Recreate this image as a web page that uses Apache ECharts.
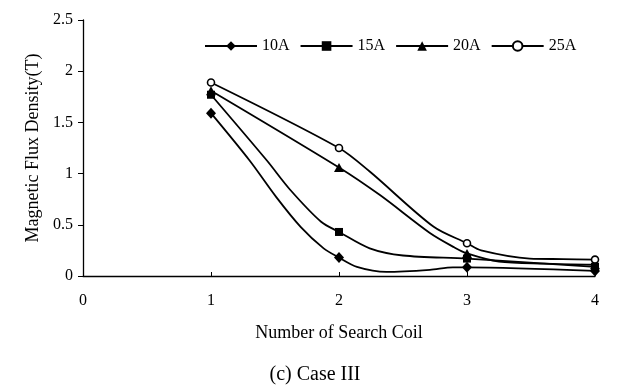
<!DOCTYPE html>
<html>
<head>
<meta charset="utf-8">
<script src="https://cdn.jsdelivr.net/npm/echarts@6/dist/echarts.min.js"></script>
<style>
  html, body { margin: 0; padding: 0; background: #fff; }
  #chart { width: 620px; height: 390px; }
</style>
</head>
<body>
<div id="chart"></div>
<script>
// Search coil positions and measured flux density (T) at each coil
var coils = [1, 2, 3, 4];
var flux10A = [1.59, 0.18, 0.085, 0.05];
var flux15A = [1.77, 0.43, 0.17, 0.09];
var flux20A = [1.81, 1.06, 0.22, 0.11];
var flux25A = [1.89, 1.25, 0.32, 0.16];

// Points along each plotted curve between the coils ([coil, T])
var curve10A = [[1.30, 1.13], [1.51, 0.77], [1.70, 0.48], [1.88, 0.27],
                [2.14, 0.09], [2.37, 0.04], [2.71, 0.06], [2.89, 0.085]];
var curve15A = [[1.435, 1.13], [1.62, 0.84], [1.86, 0.53],
                [2.24, 0.27], [2.5, 0.20]];
var curve20A = [[2.32, 0.79], [2.71, 0.42], [2.9, 0.28],
                [3.25, 0.14], [3.6, 0.12]];
var curve25A = [[2.24, 1.02], [2.74, 0.48],
                [3.11, 0.25], [3.49, 0.17], [3.75, 0.165]];

var seriesNames = ['10A', '15A', '20A', '25A'];

var FONT = '"Liberation Serif", "Times New Roman", serif';

function buildData(values, curve) {
  var pts = coils.map(function (c, i) { return { value: [c, values[i]] }; });
  curve.forEach(function (p) { pts.push({ value: p, symbol: 'none' }); });
  pts.sort(function (a, b) { return a.value[0] - b.value[0]; });
  return pts;
}

function lineSeries(name, values, curve, symbol, size, filled) {
  return {
    name: name,
    type: 'line',
    data: buildData(values, curve),
    smooth: 0.3,
    symbol: symbol,
    symbolSize: size,
    showAllSymbol: true,
    lineStyle: { color: '#000', width: 1.8 },
    itemStyle: filled
      ? { color: '#000', borderColor: '#000', borderWidth: 0 }
      : { color: '#fff', borderColor: '#000', borderWidth: 1.6 },
    emphasis: { disabled: true },
    z: 3
  };
}

var chart = echarts.init(document.getElementById('chart'), null, { renderer: 'canvas' });

chart.setOption({
  animation: false,
  backgroundColor: '#fff',
  textStyle: { fontFamily: FONT, color: '#000' },
  grid: { left: 83, right: 25, top: 20, bottom: 114, containLabel: false },
  legend: {
    data: seriesNames,
    left: 204,
    top: 38,
    padding: 0,
    itemWidth: 52,
    itemHeight: 12,
    itemGap: 10,
    textStyle: { fontFamily: FONT, fontSize: 16, color: '#000' }
  },
  xAxis: {
    type: 'value',
    min: 0,
    max: 4,
    interval: 1,
    name: 'Number of Search Coil',
    nameLocation: 'middle',
    nameGap: 48,
    nameTextStyle: { fontFamily: FONT, fontSize: 18, color: '#000' },
    axisLine: { lineStyle: { color: '#000', width: 1.3 } },
    axisTick: { inside: true, length: 4, lineStyle: { color: '#000', width: 1 } },
    axisLabel: { margin: 17, fontFamily: FONT, fontSize: 16, color: '#000' },
    splitLine: { show: false }
  },
  yAxis: {
    type: 'value',
    min: 0,
    max: 2.5,
    interval: 0.5,
    name: 'Magnetic Flux Density(T)',
    nameLocation: 'middle',
    nameRotate: 90,
    nameGap: 40,
    nameTextStyle: { fontFamily: FONT, fontSize: 18, color: '#000' },
    axisLine: { show: true, lineStyle: { color: '#000', width: 1.3 } },
    axisTick: { show: true, inside: false, length: 5, lineStyle: { color: '#000', width: 1 } },
    axisLabel: { margin: 10, fontFamily: FONT, fontSize: 16, color: '#000' },
    splitLine: { show: false }
  },
  graphic: [{
    type: 'text',
    x: 315,
    y: 375,
    style: {
      text: '(c) Case III',
      font: '20px ' + FONT,
      fill: '#000',
      textAlign: 'center',
      textVerticalAlign: 'middle'
    }
  }],
  series: [
    lineSeries('10A', flux10A, curve10A, 'diamond', [10, 11], true),
    lineSeries('15A', flux15A, curve15A, 'rect', 8, true),
    lineSeries('20A', flux20A, curve20A, 'triangle', [10, 9], true),
    lineSeries('25A', flux25A, curve25A, 'circle', 7, false)
  ]
});
</script>
</body>
</html>
